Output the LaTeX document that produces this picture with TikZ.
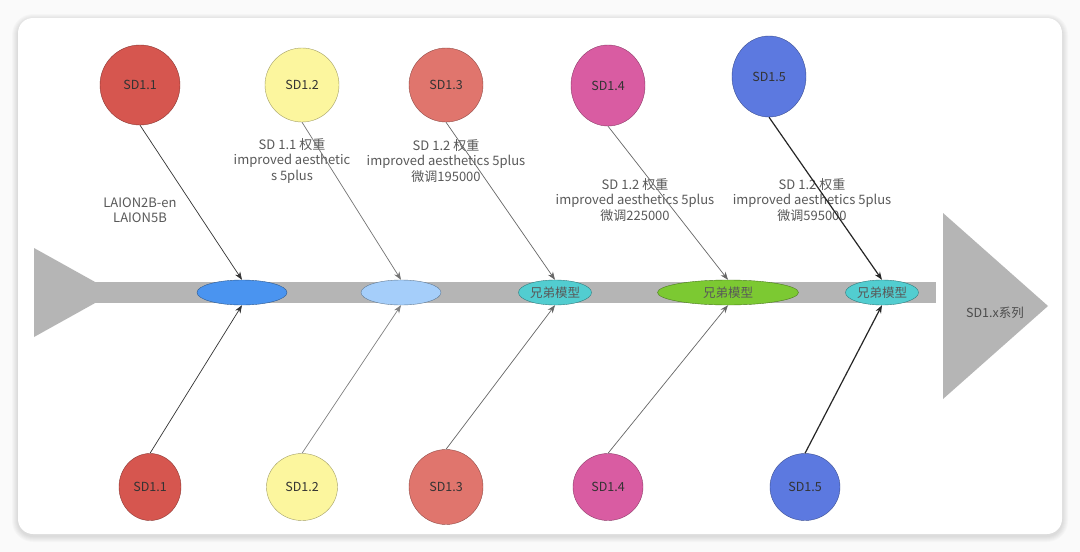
\documentclass[tikz,border=0pt]{standalone}
\usepackage{fontspec}
\setmainfont{Noto Sans CJK SC}
\usetikzlibrary{shapes.geometric,arrows.meta}

\definecolor{sdred}{HTML}{D6564F}
\definecolor{sdyellow}{HTML}{FCF69E}
\definecolor{sdsalmon}{HTML}{E0756D}
\definecolor{sdpink}{HTML}{D95CA2}
\definecolor{sdblue}{HTML}{5C79E0}
\definecolor{jblue}{HTML}{4A94F0}
\definecolor{jlight}{HTML}{A5CEFA}
\definecolor{jteal}{HTML}{52CDD0}
\definecolor{jgreen}{HTML}{7CC932}
\definecolor{spine}{HTML}{B5B5B5}

\begin{document}
\begin{tikzpicture}[x=1pt, y=-1pt, >={Stealth[length=8pt,width=6pt]},
    every node/.style={font=\fontsize{12.5}{15}\selectfont},
    cause/.style={ellipse, draw=#1!65!black, fill=#1, inner sep=0pt,
        minimum width=74pt, minimum height=74pt, text=black!80},
    joint/.style={ellipse, draw=#1!60!black, fill=#1, inner sep=0pt,
        minimum height=25pt, text=black!65},
    note/.style={align=center, text=black!65, font=\fontsize{13}{15.5}\selectfont},
    rib/.style={->, line width=0.7pt, draw=black!#1}]
        \useasboundingbox (0,0) rectangle (1080,552);
        % page and card
        \fill[black!2] (0,0) rectangle (1080,552);
        \foreach \s in {1,...,6}
            \fill[black, opacity=0.02, rounded corners=15+\s]
                (18-\s,18-\s+2) rectangle (1062+\s,534+\s+2);
        \fill[white, rounded corners=15] (18,18) rectangle (1062,534);
        % fish bone: tail, spine and head
        \fill[spine] (34,248) -- (114,292.5) -- (34,337) -- cycle;
        \fill[spine] (93,282) rectangle (936,303);
        \fill[spine] (943,213) -- (1048,306) -- (943,399) -- cycle;
        \node[text=black!70] (head) at (995,313) {SD1.x系列};
        % joints on the spine
        \node[joint=jblue,  minimum width=90pt] (j1) at (242,292.5) {};
        \node[joint=jlight, minimum width=80pt] (j2) at (401,292.5) {};
        \node[joint=jteal,  minimum width=73pt] (j3) at (555,292.5) {兄弟模型};
        \node[joint=jgreen, minimum width=141pt] (j4) at (728,292.5) {兄弟模型};
        \node[joint=jteal,  minimum width=73pt] (j5) at (882,292.5) {兄弟模型};
        % upper causes
        \node[cause=sdred, minimum width=80pt, minimum height=80pt] (t1) at (140,85) {SD1.1};
        \node[cause=sdyellow] (t2) at (302,85) {SD1.2};
        \node[cause=sdsalmon] (t3) at (446,85) {SD1.3};
        \node[cause=sdpink, minimum height=81pt] (t4) at (608,85.5) {SD1.4};
        \node[cause=sdblue, minimum height=81pt] (t5) at (769,76.5) {SD1.5};
        % lower causes
        \node[cause=sdred, minimum width=62pt, minimum height=67pt] (b1) at (150,487) {SD1.1};
        \node[cause=sdyellow, minimum width=71pt, minimum height=67pt] (b2) at (302,487) {SD1.2};
        \node[cause=sdsalmon, minimum height=75pt] (b3) at (446,487) {SD1.3};
        \node[cause=sdpink, minimum width=70pt, minimum height=67pt] (b4) at (608,487) {SD1.4};
        \node[cause=sdblue, minimum width=70pt, minimum height=67pt] (b5) at (805,487) {SD1.5};
        % notes
        \node[note] (n1) at (140,210) {LAION2B-en\\LAION5B};
        \node[note] (n2) at (292,161) {SD 1.1 权重\\improved aesthetic\\s 5plus};
        \node[note] (n3) at (446,161) {SD 1.2 权重\\improved aesthetics 5plus\\微调195000};
        \node[note] (n4) at (635,200) {SD 1.2 权重\\improved aesthetics 5plus\\微调225000};
        \node[note] (n5) at (812,200) {SD 1.2 权重\\improved aesthetics 5plus\\微调595000};
        % ribs from above
        \draw[rib=80] (t1.south) -- (j1.north);
        \draw[rib=55] (t2.south) -- (j2.north);
        \draw[rib=60] (t3.south) -- (j3.north);
        \draw[rib=60] (t4.south) -- (j4.north);
        \draw[rib=85, line width=1.2pt] (t5.south) -- (j5.north);
        % ribs from below
        \draw[rib=80] (b1.north) -- (j1.south);
        \draw[rib=50] (b2.north) -- (j2.south);
        \draw[rib=60] (b3.north) -- (j3.south);
        \draw[rib=60] (b4.north) -- (j4.south);
        \draw[rib=85, line width=1.2pt] (b5.north) -- (j5.south);
    \end{tikzpicture}
\end{document}
